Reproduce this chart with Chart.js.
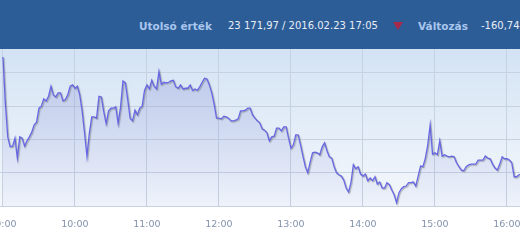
<!DOCTYPE html>
<html>
<head>
<meta charset="utf-8">
<script src="https://cdn.jsdelivr.net/npm/chart.js@4.4.1/dist/chart.umd.min.js"></script>
<style>
  html, body { margin: 0; padding: 0; width: 520px; height: 245px; overflow: hidden; background: #fff; }
  #head {
    position: absolute; left: 0; top: 0; width: 520px; height: 49px;
    background: #2d5d97; font-family: "DejaVu Sans", Verdana, sans-serif;
    white-space: nowrap;
  }
  #head span { position: absolute; top: 19px; line-height: 14px; }
  .lbl { font-weight: bold; font-size: 10.5px; color: #a9c6ee; }
  .val { font-size: 10px; color: #e8eef7; }
  .down {
    width: 0; height: 0; top: 22px !important;
    border-left: 5.5px solid transparent; border-right: 5.5px solid transparent;
    border-top: 8px solid #a8284a;
  }
  #chart { position: absolute; left: -40px; top: 49px; }
</style>
</head>
<body>
<div id="head">
  <span class="lbl" style="left:139px">Utolsó érték</span>
  <span class="val" style="left:228px">23 171,97 / 2016.02.23 17:05</span>
  <span class="down" style="left:393px"></span>
  <span class="lbl" style="left:418px">Változás</span>
  <span class="val" style="left:481px">-160,74</span>
</div>
<canvas id="chart" width="600" height="196"></canvas>

<script>
// ===============================
// DATA
// ===============================

// one value every STEP minutes, starting at 09:00
const STEP = 2;
const tickLabels = ["09:00", "10:00", "11:00", "12:00", "13:00", "14:00", "15:00", "16:00"];

const values = [
  23374, 23305, 23254, 23239, 23240, 23252, 23222, 23254, 23252, 23240,
  23248, 23254, 23261, 23272, 23276, 23297, 23300, 23311, 23308, 23315,
  23330, 23317, 23314, 23320, 23320, 23308, 23310, 23317, 23330, 23332,
  23327, 23330, 23317, 23293, 23260, 23225, 23260, 23284, 23284, 23282,
  23315, 23314, 23292, 23274, 23293, 23297, 23297, 23299, 23274, 23299,
  23338, 23335, 23310, 23282, 23278, 23294, 23287, 23297, 23300, 23324,
  23332, 23326, 23339, 23330, 23326, 23352, 23333, 23336, 23335, 23336,
  23338, 23339, 23329, 23327, 23332, 23326, 23327, 23327, 23332, 23324,
  23326, 23324, 23329, 23336, 23342, 23341, 23332, 23320, 23303, 23282,
  23282, 23281, 23285, 23284, 23282, 23278, 23278, 23279, 23281, 23293,
  23293, 23294, 23297, 23297, 23287, 23282, 23278, 23275, 23266, 23264,
  23260, 23248, 23254, 23255, 23267, 23267, 23263, 23269, 23269, 23252,
  23237, 23242, 23257, 23257, 23242, 23225, 23209, 23200, 23216, 23230,
  23231, 23230, 23227, 23239, 23245, 23233, 23224, 23222, 23209, 23200,
  23197, 23195, 23189, 23177, 23171, 23185, 23212, 23206, 23209, 23198,
  23195, 23198, 23188, 23192, 23188, 23194, 23183, 23186, 23177, 23177,
  23185, 23182, 23174, 23167, 23155, 23170, 23176, 23179, 23180, 23185,
  23185, 23186, 23180, 23195, 23210, 23209, 23222, 23242, 23272, 23228,
  23230, 23227, 23248, 23225, 23227, 23225, 23224, 23225, 23224, 23215,
  23209, 23204, 23203, 23209, 23212, 23213, 23213, 23213, 23219, 23219,
  23219, 23225, 23222, 23221, 23213, 23207, 23204, 23213, 23224, 23221,
  23221, 23219, 23215, 23194, 23194, 23197, 23198
];

const points = values.map((v, i) => ({ x: i * STEP, y: v }));


// ===============================
// PLUGINS
// ===============================

// light blue background behind the plot
const plotBackground = {
  id: "plotBackground",
  beforeDraw(chart) {
    const { ctx, chartArea: a } = chart;
    const g = ctx.createLinearGradient(0, a.top, 0, a.bottom);
    g.addColorStop(0, "#d3e3f4");
    g.addColorStop(1, "#f5f8fc");
    ctx.save();
    ctx.fillStyle = g;
    ctx.fillRect(a.left, a.top, a.right - a.left, a.bottom - a.top);
    ctx.restore();
  }
};

// grey shadow under the line
const lineShadow = {
  id: "lineShadow",
  beforeDatasetDraw(chart) {
    const ctx = chart.ctx;
    ctx.save();
    ctx.shadowColor = "rgba(90,90,90,0.45)";
    ctx.shadowOffsetX = 1;
    ctx.shadowOffsetY = 1;
    ctx.shadowBlur = 1;
  },
  afterDatasetDraw(chart) {
    chart.ctx.restore();
  }
};


// ===============================
// CHART
// ===============================

new Chart(document.getElementById("chart"), {
  type: "line",
  data: {
    datasets: [{
      data: points,
      borderColor: "#6767e4",
      borderWidth: 1.3,
      pointRadius: 0,
      tension: 0,
      fill: "start",
      backgroundColor(context) {
        const a = context.chart.chartArea;
        if (!a) return "rgba(150,160,220,0.3)";
        const g = context.chart.ctx.createLinearGradient(0, a.top, 0, a.bottom);
        g.addColorStop(0, "rgba(140,150,215,0.40)");
        g.addColorStop(1, "rgba(140,150,215,0.06)");
        return g;
      }
    }]
  },
  options: {
    responsive: false,
    animation: false,
    devicePixelRatio: 1,
    layout: { padding: 0 },
    plugins: {
      legend: { display: false },
      tooltip: { enabled: false }
    },
    scales: {
      x: {
        type: "linear",
        min: -35.8,
        max: 464.2,
        border: { display: false },
        grid: { color: "#c6d2e0", drawTicks: false },
        afterBuildTicks(scale) {
          scale.ticks = tickLabels.map((_, i) => ({ value: i * 60 }));
        },
        afterFit(scale) { scale.height = 39; },
        ticks: {
          padding: 13,
          color: "#8493ab",
          font: { family: "DejaVu Sans", size: 9.5 },
          maxRotation: 0,
          callback: v => tickLabels[v / 60]
        }
      },
      y: {
        min: 23150,
        max: 23386,
        border: { display: false },
        grid: { color: "#c6d2e0", drawTicks: false },
        afterFit(scale) { scale.width = 0; },
        ticks: { display: false, stepSize: 50, includeBounds: false }
      }
    }
  },
  plugins: [plotBackground, lineShadow]
});
</script>
</body>
</html>
